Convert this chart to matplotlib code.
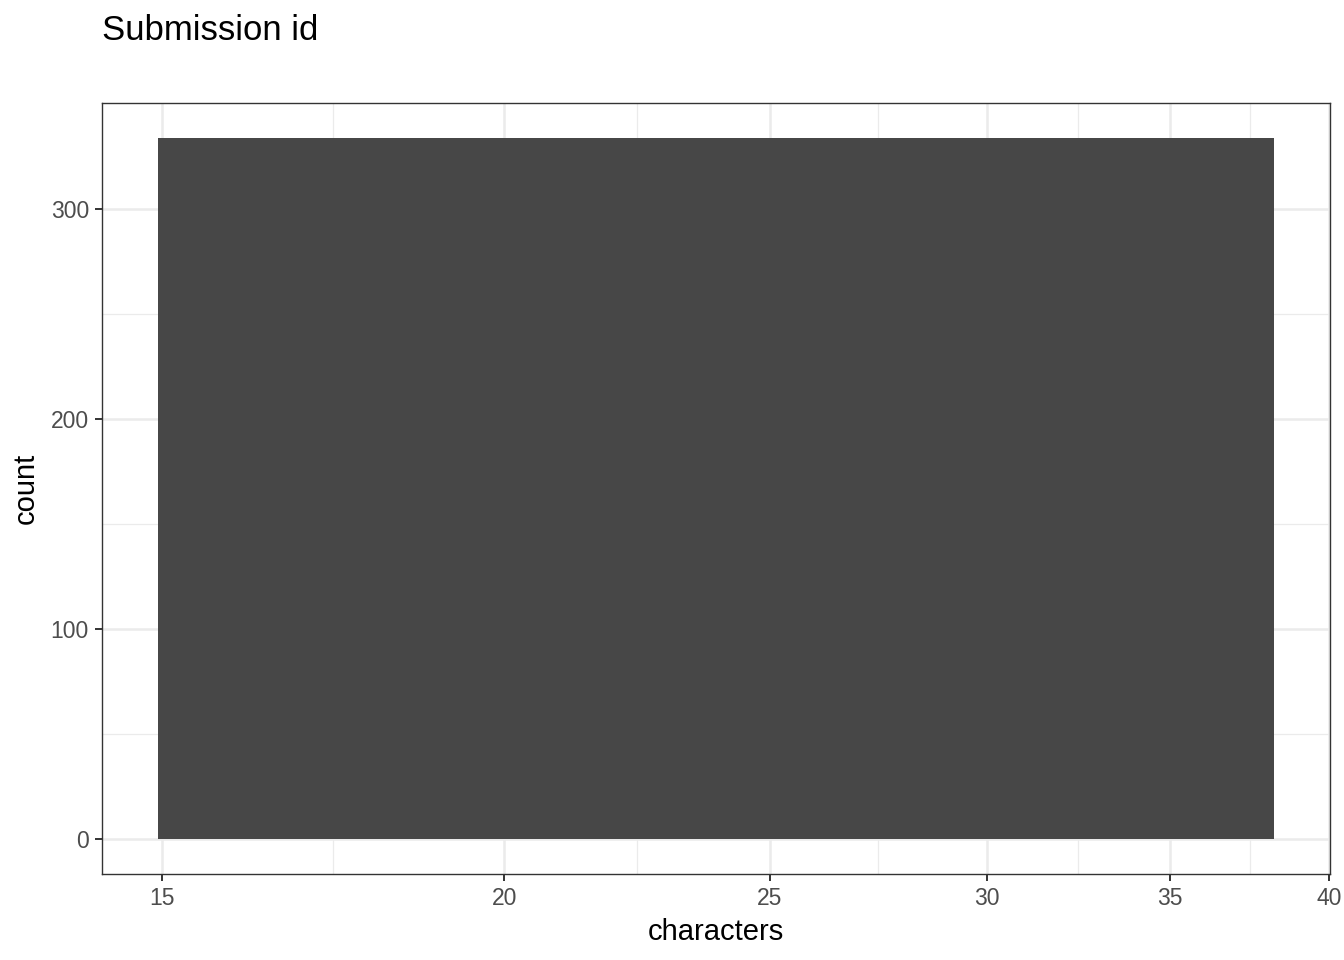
import numpy as np
import matplotlib
matplotlib.use('Agg')
import matplotlib.pyplot as plt
from matplotlib.ticker import FixedLocator, FixedFormatter, NullFormatter

# histogram of id lengths (one bin, log x scale)
bin_edges = [14.94, 38.2]
counts = [334]

x_ticks = [15, 20, 25, 30, 35, 40]
x_tick_labels = ['15', '20', '25', '30', '35', '40']
y_ticks = [0, 100, 200, 300]
y_minor = [50, 150, 250]


def main():
    plt.rcParams['font.family'] = ['Liberation Sans', 'DejaVu Sans']
    fig = plt.figure(figsize=(13.44, 9.6), dpi=100)
    ax = fig.add_axes([101.7 / 1344, 1 - 874 / 960, (1330 - 101.7) / 1344, (874 - 103) / 960])

    ax.set_xscale('log')
    ax.stairs(counts, bin_edges, fill=True, color='#474747', zorder=2)

    # ggplot style expansion: 5% each side in transformed space
    lo, hi = np.log(bin_edges[0]), np.log(bin_edges[-1])
    pad = 0.05 * (hi - lo)
    ax.set_xlim(np.exp(lo - pad), np.exp(hi + pad))
    ypad = 0.05 * max(counts)
    ax.set_ylim(-ypad, max(counts) + ypad)

    minor_x = [np.sqrt(a * b) for a, b in zip(x_ticks[:-1], x_ticks[1:])]
    ax.xaxis.set_major_locator(FixedLocator(x_ticks))
    ax.xaxis.set_major_formatter(FixedFormatter(x_tick_labels))
    ax.xaxis.set_minor_locator(FixedLocator(minor_x))
    ax.xaxis.set_minor_formatter(NullFormatter())
    ax.yaxis.set_major_locator(FixedLocator(y_ticks))
    ax.yaxis.set_minor_locator(FixedLocator(y_minor))

    ax.set_axisbelow(True)
    ax.grid(True, which='major', color='#EBEBEB', linewidth=1.8)
    ax.grid(True, which='minor', color='#EBEBEB', linewidth=0.9)

    ax.tick_params(which='major', length=5.2, width=1.4, color='#333333',
                   labelsize=16.5, labelcolor='#4D4D4D', pad=4)
    ax.tick_params(which='minor', length=0)

    for s in ax.spines.values():
        s.set_color('#333333')
        s.set_linewidth(1.0)

    ax.set_xlabel('characters', fontsize=21, labelpad=6)
    ax.set_ylabel('count', fontsize=21, labelpad=8)
    fig.text(101.7 / 1344, 1 - 40 / 960, 'Submission id', fontsize=25,
             ha='left', va='baseline')

    fig.savefig('out.png', dpi=100)


if __name__ == "__main__":
    main()
